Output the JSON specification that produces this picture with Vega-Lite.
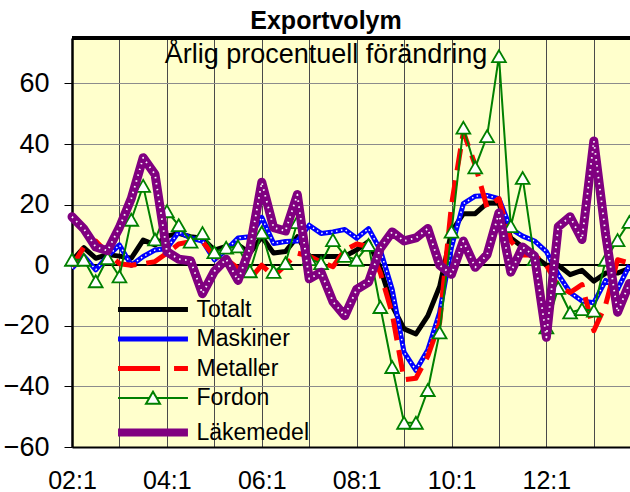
{
  "$schema": "https://vega.github.io/schema/vega-lite/v6.json",
  "autosize": {"type": "none"},
  "width": 558,
  "height": 409,
  "padding": {"left": 72, "top": 38, "right": 0, "bottom": 45},
  "background": "white",
  "config": {
    "view": {"fill": "#FFFFCC", "stroke": null},
    "font": "Liberation Sans"
  },
  "title": {
    "text": "Exportvolym",
    "subtitle": "Årlig procentuell förändring",
    "anchor": "middle",
    "frame": "group",
    "dx": -25,
    "offset": -31,
    "font": "Liberation Sans",
    "fontSize": 25,
    "fontWeight": "bold",
    "color": "black",
    "subtitleFont": "Liberation Sans",
    "subtitleFontSize": 27,
    "subtitleColor": "black",
    "subtitlePadding": 7.4
  },
  "datasets": {
    "exp": [
      {"q":0,"s":"Totalt","v":1.5},{"q":1,"s":"Totalt","v":5.8},{"q":2,"s":"Totalt","v":2.3},{"q":3,"s":"Totalt","v":3.5},{"q":4,"s":"Totalt","v":3},{"q":5,"s":"Totalt","v":2.3},{"q":6,"s":"Totalt","v":8.3},{"q":7,"s":"Totalt","v":6.7},{"q":8,"s":"Totalt","v":9.6},{"q":9,"s":"Totalt","v":10.5},{"q":10,"s":"Totalt","v":9.4},{"q":11,"s":"Totalt","v":8.9},{"q":12,"s":"Totalt","v":5},{"q":13,"s":"Totalt","v":6.2},{"q":14,"s":"Totalt","v":6.7},{"q":15,"s":"Totalt","v":4},{"q":16,"s":"Totalt","v":9.4},{"q":17,"s":"Totalt","v":4},{"q":18,"s":"Totalt","v":4.5},{"q":19,"s":"Totalt","v":9.4},{"q":20,"s":"Totalt","v":3},{"q":21,"s":"Totalt","v":2.9},{"q":22,"s":"Totalt","v":2.9},{"q":23,"s":"Totalt","v":3},{"q":24,"s":"Totalt","v":5},{"q":25,"s":"Totalt","v":7.8},{"q":26,"s":"Totalt","v":-1},{"q":27,"s":"Totalt","v":-13.4},{"q":28,"s":"Totalt","v":-21},{"q":29,"s":"Totalt","v":-22.7},{"q":30,"s":"Totalt","v":-16.7},{"q":31,"s":"Totalt","v":-7},{"q":32,"s":"Totalt","v":11},{"q":33,"s":"Totalt","v":17},{"q":34,"s":"Totalt","v":17},{"q":35,"s":"Totalt","v":20.5},{"q":36,"s":"Totalt","v":20.5},{"q":37,"s":"Totalt","v":9},{"q":38,"s":"Totalt","v":6},{"q":39,"s":"Totalt","v":3},{"q":40,"s":"Totalt","v":0},{"q":41,"s":"Totalt","v":0},{"q":42,"s":"Totalt","v":-3.1},{"q":43,"s":"Totalt","v":-1.7},{"q":44,"s":"Totalt","v":-5.3},{"q":45,"s":"Totalt","v":-2.6},{"q":46,"s":"Totalt","v":-2.6},{"q":47,"s":"Totalt","v":-1},
      {"q":0,"s":"Maskiner","v":-1},{"q":1,"s":"Maskiner","v":3},{"q":2,"s":"Maskiner","v":-1.5},{"q":3,"s":"Maskiner","v":3},{"q":4,"s":"Maskiner","v":6.7},{"q":5,"s":"Maskiner","v":0},{"q":6,"s":"Maskiner","v":2.9},{"q":7,"s":"Maskiner","v":5},{"q":8,"s":"Maskiner","v":5.5},{"q":9,"s":"Maskiner","v":11},{"q":10,"s":"Maskiner","v":9},{"q":11,"s":"Maskiner","v":8},{"q":12,"s":"Maskiner","v":1.8},{"q":13,"s":"Maskiner","v":5},{"q":14,"s":"Maskiner","v":9},{"q":15,"s":"Maskiner","v":9.4},{"q":16,"s":"Maskiner","v":15.8},{"q":17,"s":"Maskiner","v":7.2},{"q":18,"s":"Maskiner","v":7.8},{"q":19,"s":"Maskiner","v":8},{"q":20,"s":"Maskiner","v":13.2},{"q":21,"s":"Maskiner","v":10.5},{"q":22,"s":"Maskiner","v":11},{"q":23,"s":"Maskiner","v":11.8},{"q":24,"s":"Maskiner","v":8.9},{"q":25,"s":"Maskiner","v":12.1},{"q":26,"s":"Maskiner","v":5},{"q":27,"s":"Maskiner","v":-8},{"q":28,"s":"Maskiner","v":-28.7},{"q":29,"s":"Maskiner","v":-34.7},{"q":30,"s":"Maskiner","v":-28},{"q":31,"s":"Maskiner","v":-15.6},{"q":32,"s":"Maskiner","v":6},{"q":33,"s":"Maskiner","v":20.3},{"q":34,"s":"Maskiner","v":22.8},{"q":35,"s":"Maskiner","v":23},{"q":36,"s":"Maskiner","v":22},{"q":37,"s":"Maskiner","v":12},{"q":38,"s":"Maskiner","v":9.6},{"q":39,"s":"Maskiner","v":8},{"q":40,"s":"Maskiner","v":4.5},{"q":41,"s":"Maskiner","v":-3},{"q":42,"s":"Maskiner","v":-9},{"q":43,"s":"Maskiner","v":-11.8},{"q":44,"s":"Maskiner","v":-12.4},{"q":45,"s":"Maskiner","v":-5},{"q":46,"s":"Maskiner","v":-8},{"q":47,"s":"Maskiner","v":0},
      {"q":0,"s":"Metaller","v":-0.4},{"q":1,"s":"Metaller","v":6},{"q":2,"s":"Metaller","v":8},{"q":3,"s":"Metaller","v":4},{"q":4,"s":"Metaller","v":0.5},{"q":5,"s":"Metaller","v":0},{"q":6,"s":"Metaller","v":0.5},{"q":7,"s":"Metaller","v":1.2},{"q":8,"s":"Metaller","v":4},{"q":9,"s":"Metaller","v":7},{"q":10,"s":"Metaller","v":7.8},{"q":11,"s":"Metaller","v":7.8},{"q":12,"s":"Metaller","v":3},{"q":13,"s":"Metaller","v":2},{"q":14,"s":"Metaller","v":-1},{"q":15,"s":"Metaller","v":-4.5},{"q":16,"s":"Metaller","v":0},{"q":17,"s":"Metaller","v":-3.6},{"q":18,"s":"Metaller","v":0},{"q":19,"s":"Metaller","v":4},{"q":20,"s":"Metaller","v":3},{"q":21,"s":"Metaller","v":1},{"q":22,"s":"Metaller","v":-0.5},{"q":23,"s":"Metaller","v":5},{"q":24,"s":"Metaller","v":7},{"q":25,"s":"Metaller","v":6.2},{"q":26,"s":"Metaller","v":-2.5},{"q":27,"s":"Metaller","v":-16},{"q":28,"s":"Metaller","v":-37.8},{"q":29,"s":"Metaller","v":-37.3},{"q":30,"s":"Metaller","v":-30},{"q":31,"s":"Metaller","v":-19},{"q":32,"s":"Metaller","v":20},{"q":33,"s":"Metaller","v":44},{"q":34,"s":"Metaller","v":33},{"q":35,"s":"Metaller","v":19},{"q":36,"s":"Metaller","v":22},{"q":37,"s":"Metaller","v":8},{"q":38,"s":"Metaller","v":3.4},{"q":39,"s":"Metaller","v":3.4},{"q":40,"s":"Metaller","v":0},{"q":41,"s":"Metaller","v":-7},{"q":42,"s":"Metaller","v":-9},{"q":43,"s":"Metaller","v":-6.4},{"q":44,"s":"Metaller","v":-21.6},{"q":45,"s":"Metaller","v":-13},{"q":46,"s":"Metaller","v":1.8},{"q":47,"s":"Metaller","v":0.7},
      {"q":0,"s":"Fordon","v":1.8},{"q":1,"s":"Fordon","v":1.8},{"q":2,"s":"Fordon","v":-5.3},{"q":3,"s":"Fordon","v":2.3},{"q":4,"s":"Fordon","v":-3.7},{"q":5,"s":"Fordon","v":15},{"q":6,"s":"Fordon","v":26.2},{"q":7,"s":"Fordon","v":8.5},{"q":8,"s":"Fordon","v":17.8},{"q":9,"s":"Fordon","v":13.2},{"q":10,"s":"Fordon","v":7.8},{"q":11,"s":"Fordon","v":10.6},{"q":12,"s":"Fordon","v":4.3},{"q":13,"s":"Fordon","v":5.8},{"q":14,"s":"Fordon","v":6.2},{"q":15,"s":"Fordon","v":-2},{"q":16,"s":"Fordon","v":10.8},{"q":17,"s":"Fordon","v":-2.2},{"q":18,"s":"Fordon","v":0.7},{"q":19,"s":"Fordon","v":14.2},{"q":20,"s":"Fordon","v":2},{"q":21,"s":"Fordon","v":0.7},{"q":22,"s":"Fordon","v":8.3},{"q":23,"s":"Fordon","v":3.1},{"q":24,"s":"Fordon","v":1.8},{"q":25,"s":"Fordon","v":6.7},{"q":26,"s":"Fordon","v":-13.8},{"q":27,"s":"Fordon","v":-33.6},{"q":28,"s":"Fordon","v":-52},{"q":29,"s":"Fordon","v":-52},{"q":30,"s":"Fordon","v":-41.2},{"q":31,"s":"Fordon","v":-22.2},{"q":32,"s":"Fordon","v":11.1},{"q":33,"s":"Fordon","v":45.4},{"q":34,"s":"Fordon","v":32.3},{"q":35,"s":"Fordon","v":42.6},{"q":36,"s":"Fordon","v":69},{"q":37,"s":"Fordon","v":12.9},{"q":38,"s":"Fordon","v":28.8},{"q":39,"s":"Fordon","v":2},{"q":40,"s":"Fordon","v":-20.5},{"q":41,"s":"Fordon","v":-7.5},{"q":42,"s":"Fordon","v":-15.6},{"q":43,"s":"Fordon","v":-14.5},{"q":44,"s":"Fordon","v":-15},{"q":45,"s":"Fordon","v":1.8},{"q":46,"s":"Fordon","v":8.3},{"q":47,"s":"Fordon","v":14.3},
      {"q":0,"s":"Läkemedel","v":16},{"q":1,"s":"Läkemedel","v":12},{"q":2,"s":"Läkemedel","v":6},{"q":3,"s":"Läkemedel","v":4.8},{"q":4,"s":"Läkemedel","v":12.5},{"q":5,"s":"Läkemedel","v":22},{"q":6,"s":"Läkemedel","v":35.5},{"q":7,"s":"Läkemedel","v":30},{"q":8,"s":"Läkemedel","v":4.5},{"q":9,"s":"Läkemedel","v":2},{"q":10,"s":"Läkemedel","v":1.5},{"q":11,"s":"Läkemedel","v":-9.4},{"q":12,"s":"Läkemedel","v":-2},{"q":13,"s":"Läkemedel","v":2},{"q":14,"s":"Läkemedel","v":-5},{"q":15,"s":"Läkemedel","v":5.6},{"q":16,"s":"Läkemedel","v":27.4},{"q":17,"s":"Läkemedel","v":12.4},{"q":18,"s":"Läkemedel","v":11.3},{"q":19,"s":"Läkemedel","v":23.3},{"q":20,"s":"Läkemedel","v":-4.5},{"q":21,"s":"Läkemedel","v":-2.3},{"q":22,"s":"Läkemedel","v":-12},{"q":23,"s":"Läkemedel","v":-16.7},{"q":24,"s":"Läkemedel","v":-8},{"q":25,"s":"Läkemedel","v":-5.6},{"q":26,"s":"Läkemedel","v":5.6},{"q":27,"s":"Läkemedel","v":11},{"q":28,"s":"Läkemedel","v":8},{"q":29,"s":"Läkemedel","v":9},{"q":30,"s":"Läkemedel","v":12.1},{"q":31,"s":"Läkemedel","v":0},{"q":32,"s":"Läkemedel","v":-3},{"q":33,"s":"Läkemedel","v":8},{"q":34,"s":"Läkemedel","v":-0.7},{"q":35,"s":"Läkemedel","v":3.5},{"q":36,"s":"Läkemedel","v":17.3},{"q":37,"s":"Läkemedel","v":-2.3},{"q":38,"s":"Läkemedel","v":6},{"q":39,"s":"Läkemedel","v":3},{"q":40,"s":"Läkemedel","v":-23.8},{"q":41,"s":"Läkemedel","v":12.7},{"q":42,"s":"Läkemedel","v":16},{"q":43,"s":"Läkemedel","v":8.5},{"q":44,"s":"Läkemedel","v":41},{"q":45,"s":"Läkemedel","v":10},{"q":46,"s":"Läkemedel","v":-15.5},{"q":47,"s":"Läkemedel","v":-6}
    ]
  },
  "data": {"name": "exp"},
  "encoding": {
    "x": {
      "field": "q", "type": "quantitative",
      "scale": {"domain": [0, 47.05], "nice": false, "zero": false},
      "axis": {
        "title": null,
        "values": [0, 4, 8, 12, 16, 20, 24, 28, 32, 36, 40, 44],
        "labelExpr": "datum.value % 8 === 0 ? ((2 + datum.value / 4) < 10 ? '0' : '') + (2 + datum.value / 4) + ':1' : ''",
        "labelOverlap": false,
        "labelFlush": false,
        "labelFont": "Liberation Sans",
        "labelFontSize": 25,
        "labelColor": "black",
        "labelPadding": 21,
        "ticks": false,
        "tickSize": 0,
        "grid": true,
        "gridColor": "#4a4a4a",
        "gridWidth": 1,
        "domain": true,
        "domainColor": "black",
        "domainWidth": 2
      }
    },
    "y": {
      "field": "v", "type": "quantitative",
      "scale": {"domain": [-60, 75], "nice": false, "zero": false},
      "axis": {
        "title": null,
        "values": [-60, -40, -20, 0, 20, 40, 60],
        "labelFont": "Liberation Sans",
        "labelFontSize": 27,
        "labelColor": "black",
        "labelPadding": 15,
        "ticks": true,
        "tickSize": 8,
        "tickColor": "black",
        "tickWidth": 1,
        "grid": true,
        "gridColor": "#8c8c8c",
        "gridWidth": 1.2,
        "domain": true,
        "domainColor": "black",
        "domainWidth": 2.5
      }
    },
    "color": {
      "field": "s", "type": "nominal",
      "scale": {
        "domain": ["Totalt", "Maskiner", "Metaller", "Fordon", "Läkemedel"],
        "range": ["#000000", "#0000FF", "#FF0000", "#008000", "#800080"]
      },
      "legend": {
        "title": null,
        "orient": "none",
        "legendX": 46,
        "legendY": 260,
        "padding": 0,
        "symbolType": "M-3.04,0H3.04",
        "symbolSize": 529,
        "symbolOffset": 23.5,
        "labelOffset": 32,
        "rowPadding": 5.5,
        "symbolStrokeWidth": 5,
        "labelFont": "Liberation Sans",
        "labelFontSize": 23,
        "labelColor": "black",
        "labelLimit": 300,
        "encode": {
          "symbols": {
            "update": {
              "shape": {"signal": "datum.value === 'Fordon' ? 'M-3.04,0H-0.32M0.32,0H3.04M0,-0.55L0.61,0.5L-0.61,0.5Z' : 'M-3.04,0H3.04'"},
              "strokeWidth": {"signal": "datum.value === 'Fordon' ? 2 : (datum.value === 'Läkemedel' ? 8 : 5)"},
              "strokeDash": {"signal": "datum.value === 'Metaller' ? [42, 14] : [1, 0]"},
              "fill": {"signal": "datum.value === 'Fordon' ? 'white' : 'transparent'"},
              "opacity": {"value": 1}
            }
          }
        }
      }
    }
  },
  "layer": [
    {
      "mark": {"type": "rule", "color": "black", "strokeWidth": 1.5},
      "encoding": {"y": {"datum": 0}, "x": null, "color": null}
    },
    {
      "mark": {"type": "rule", "color": "black", "strokeWidth": 2.5},
      "encoding": {"y": {"datum": 75}, "x": null, "color": null}
    },
    {
      "transform": [{"filter": "datum.s === 'Totalt'"}],
      "mark": {"type": "line", "strokeWidth": 5, "strokeJoin": "round"}
    },
    {
      "transform": [{"filter": "datum.s === 'Maskiner'"}],
      "mark": {"type": "line", "strokeWidth": 5, "strokeJoin": "round"}
    },
    {
      "transform": [{"filter": "datum.s === 'Maskiner'"}],
      "mark": {"type": "line", "strokeWidth": 1.5, "strokeDash": [1.5, 3.5], "strokeJoin": "round"},
      "encoding": {"color": {"value": "white"}}
    },
    {
      "transform": [{"filter": "datum.s === 'Metaller'"}],
      "mark": {"type": "line", "strokeWidth": 5, "strokeDash": [22, 10], "strokeJoin": "round"}
    },
    {
      "transform": [{"filter": "datum.s === 'Fordon'"}],
      "mark": {"type": "line", "strokeWidth": 2, "strokeJoin": "round"}
    },
    {
      "transform": [{"filter": "datum.s === 'Fordon'"}],
      "mark": {"type": "point", "shape": "triangle-up", "size": 190, "filled": true, "stroke": "#008000", "strokeWidth": 1.8, "opacity": 1},
      "encoding": {"color": {"value": "white"}}
    },
    {
      "transform": [{"filter": "datum.s === 'Läkemedel'"}],
      "mark": {"type": "line", "strokeWidth": 9, "strokeJoin": "round", "strokeCap": "round"}
    },
    {
      "transform": [{"filter": "datum.s === 'Läkemedel'"}],
      "mark": {"type": "line", "strokeWidth": 1.8, "strokeDash": [1.5, 4.5], "strokeJoin": "round"},
      "encoding": {"color": {"value": "white"}}
    }
  ]
}
